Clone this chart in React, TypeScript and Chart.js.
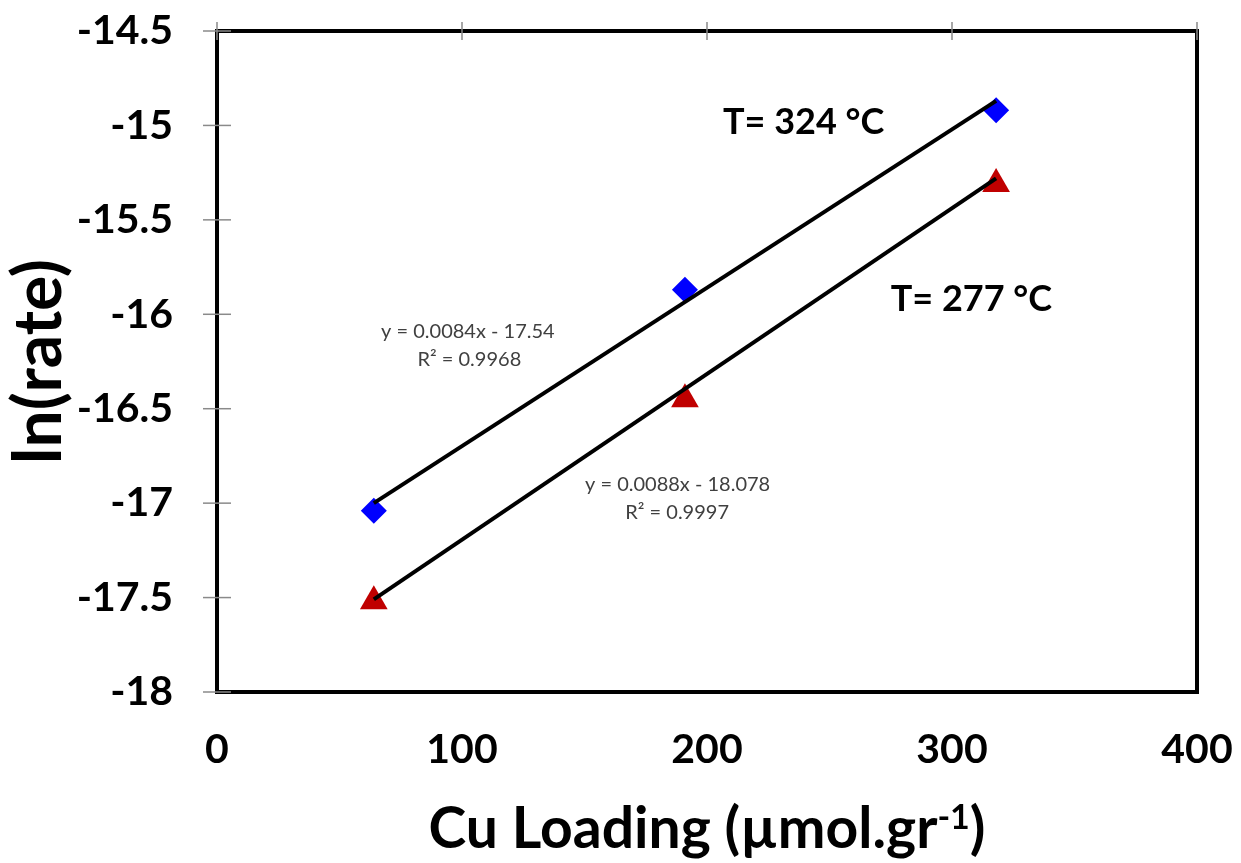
import React, { useEffect, useRef } from 'react';
import { Chart, registerables } from 'chart.js';

Chart.register(...registerables);

// ---- data ----
const cuLoading = [64, 191, 318];
const lnRate324 = [-17.04, -15.87, -14.92];
const lnRate277 = [-17.52, -16.45, -15.31];

const trendX = [64, 318];
const trend324 = [-17.0, -14.87];
const trend277 = [-17.51, -15.28];

const xTickValues = [0, 100, 200, 300, 400];
const yTickValues = [-14.5, -15, -15.5, -16, -16.5, -17, -17.5, -18];

const labelTexts = ['T= 324 °C', 'T= 277 °C', 'y = 0.0084x - 17.54', 'R² = 0.9968', 'y = 0.0088x - 18.078', 'R² = 0.9997'];
const labelX = [206.5, 275, 102.4, 103, 188, 187.8];
const labelY = [-14.985, -15.92, -16.09, -16.24, -16.9, -17.05];
const labelKind = ['big', 'big', 'eq', 'eq', 'eq', 'eq'];

const FONT = 'Lato, "Open Sans", "DejaVu Sans", sans-serif';

const zeroPad = (s: any) => {
  s.paddingTop = 0;
  s.paddingBottom = 0;
  s.paddingLeft = 0;
  s.paddingRight = 0;
};

const framePlugin = {
  id: 'framePlugin',
  afterDraw(chart: any) {
    const { ctx, chartArea, scales } = chart;
    const { left, right, top, bottom } = chartArea;
    const xs = scales.x;
    const ys = scales.y;
    ctx.save();
    // frame
    ctx.strokeStyle = '#000000';
    ctx.lineWidth = 4;
    ctx.strokeRect(left, top, right - left, bottom - top);
    // cross tick marks
    ctx.strokeStyle = '#8a8a8a';
    ctx.lineWidth = 1.5;
    xTickValues.forEach((v) => {
      const px = xs.getPixelForValue(v);
      ctx.beginPath();
      ctx.moveTo(px, top - 9);
      ctx.lineTo(px, top + 9);
      ctx.stroke();
    });
    yTickValues.forEach((v) => {
      const py = ys.getPixelForValue(v);
      ctx.beginPath();
      ctx.moveTo(left - 14, py);
      ctx.lineTo(left + 14, py);
      ctx.stroke();
    });
    // annotations
    labelTexts.forEach((t, i) => {
      const px = xs.getPixelForValue(labelX[i]);
      const py = ys.getPixelForValue(labelY[i]);
      if (labelKind[i] === 'big') {
        ctx.font = `bold 36px ${FONT}`;
        ctx.fillStyle = '#000000';
        ctx.textAlign = 'left';
      } else {
        ctx.font = `20px ${FONT}`;
        ctx.fillStyle = '#404040';
        ctx.textAlign = 'center';
      }
      ctx.textBaseline = 'middle';
      ctx.fillText(t, px, py);
    });
    // x axis title with superscript
    const main1 = 'Cu Loading (µmol.gr';
    const sup = '-1';
    const main2 = ')';
    const mainFont = `bold 57px ${FONT}`;
    const supFont = `bold 34px ${FONT}`;
    ctx.font = mainFont;
    const w1 = ctx.measureText(main1).width;
    const w3 = ctx.measureText(main2).width;
    ctx.font = supFont;
    const w2 = ctx.measureText(sup).width;
    const total = w1 + w2 + w3;
    const cx = (left + right) / 2;
    let x0 = cx - total / 2;
    const baseY = 848;
    ctx.fillStyle = '#000000';
    ctx.textAlign = 'left';
    ctx.textBaseline = 'alphabetic';
    ctx.font = mainFont;
    ctx.fillText(main1, x0, baseY);
    x0 += w1;
    ctx.font = supFont;
    ctx.fillText(sup, x0, baseY - 19);
    x0 += w2;
    ctx.font = mainFont;
    ctx.fillText(main2, x0, baseY);
    ctx.restore();
  },
};

export default function App() {
  const canvasRef = useRef<HTMLCanvasElement | null>(null);

  useEffect(() => {
    const canvas = canvasRef.current;
    if (!canvas) return;
    const chart = new Chart(canvas, {
      type: 'scatter',
      data: {
        datasets: [
          {
            label: 'trend 324',
            data: trendX.map((x, i) => ({ x, y: trend324[i] })),
            showLine: true,
            borderColor: '#000000',
            borderWidth: 4,
            pointRadius: 0,
            fill: false,
          },
          {
            label: 'trend 277',
            data: trendX.map((x, i) => ({ x, y: trend277[i] })),
            showLine: true,
            borderColor: '#000000',
            borderWidth: 4,
            pointRadius: 0,
            fill: false,
          },
          {
            label: 'T = 324 °C',
            data: cuLoading.map((x, i) => ({ x, y: lnRate324[i] })),
            pointStyle: 'rectRot',
            pointRadius: 13,
            backgroundColor: '#0000FF',
            borderColor: '#0000FF',
            borderWidth: 0,
          },
          {
            label: 'T = 277 °C',
            data: cuLoading.map((x, i) => ({ x, y: lnRate277[i] })),
            pointStyle: 'triangle',
            pointRadius: 16,
            backgroundColor: '#C00000',
            borderColor: '#C00000',
            borderWidth: 0,
          },
        ],
      },
      options: {
        animation: false,
        responsive: false,
        devicePixelRatio: 1,
        layout: { padding: { top: 31, right: 44, left: 0, bottom: 0 } },
        plugins: {
          legend: { display: false },
          tooltip: { enabled: false },
        },
        scales: {
          x: {
            type: 'linear',
            position: 'bottom',
            min: 0,
            max: 400,
            afterBuildTicks: (s: any) => {
              s.ticks = xTickValues.map((v) => ({ value: v }));
            },
            ticks: {
              font: { family: FONT, size: 41, weight: 'bold' },
              color: '#000000',
              padding: 33,
              maxRotation: 0,
              callback: (v: any) => String(v),
            },
            grid: { display: false, drawTicks: false },
            border: { display: false },
            afterFit: (s: any) => {
              s.height = 171;
              zeroPad(s);
            },
          },
          y: {
            type: 'linear',
            min: -18,
            max: -14.5,
            afterBuildTicks: (s: any) => {
              s.ticks = yTickValues.map((v) => ({ value: v }));
            },
            ticks: {
              font: { family: FONT, size: 41, weight: 'bold' },
              color: '#000000',
              padding: 44,
              callback: (v: any) => String(v),
            },
            grid: { display: false, drawTicks: false },
            border: { display: false },
            title: {
              display: true,
              text: 'ln(rate)',
              color: '#000000',
              font: { family: FONT, size: 66, weight: 'bold' },
              padding: { top: 0, bottom: 0 },
            },
            afterFit: (s: any) => {
              s.width = 217;
              zeroPad(s);
            },
          },
        },
      },
      plugins: [framePlugin],
    } as any);
    return () => chart.destroy();
  }, []);

  return (
    <div style={{ position: 'fixed', left: 0, top: 0, width: 1241, height: 863, background: '#ffffff' }}>
      <canvas ref={canvasRef} width={1241} height={863} style={{ display: 'block', width: 1241, height: 863 }} />
    </div>
  );
}
